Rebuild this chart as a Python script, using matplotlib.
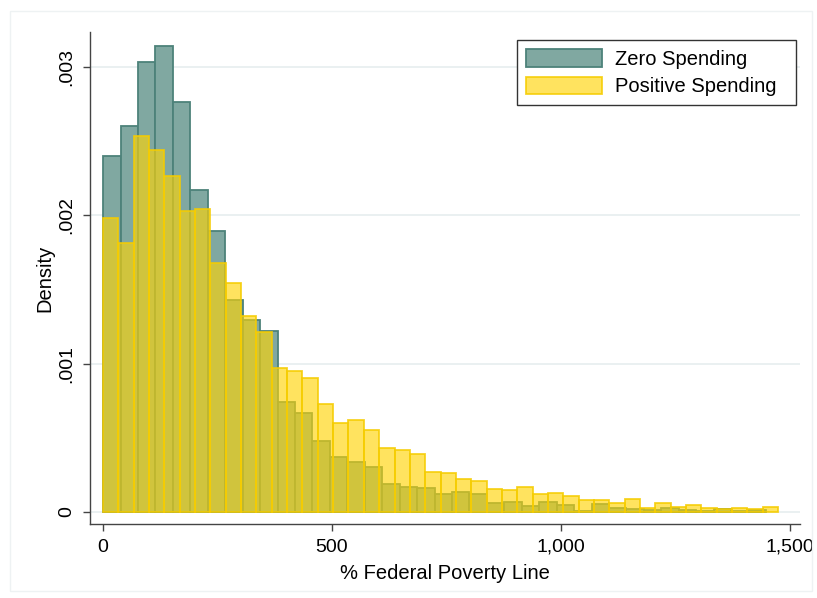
import matplotlib

matplotlib.use("Agg")
import matplotlib.pyplot as plt
import numpy as np
from matplotlib.patches import Rectangle

# Densities (% FPL bins starting at 0)
zero_bin_width = 38.1
zero_density = [
    0.00240, 0.00260, 0.00303, 0.00314, 0.00276, 0.00217, 0.00189, 0.00143,
    0.00129, 0.00122, 0.00074, 0.00067, 0.00048, 0.00037, 0.000335, 0.00030,
    0.00019, 0.000166, 0.00016, 0.00012, 0.000135, 0.00012, 0.000058, 0.000065,
    0.000038, 0.000067, 0.000049, 0.000007, 0.000054, 0.000025, 0.00002,
    0.000015, 0.000025, 0.000015, 0.000005, 0.00002, 0.00001, 0.000015,
]

pos_bin_width = 33.5
positive_density = [
    0.00198, 0.00181, 0.00253, 0.00244, 0.00226, 0.00203, 0.00204, 0.00168,
    0.00154, 0.00132, 0.00121, 0.00097, 0.00095, 0.00090, 0.00073, 0.00060,
    0.00062, 0.00055, 0.00043, 0.00042, 0.00039, 0.00027, 0.00026, 0.00022,
    0.00021, 0.000155, 0.00015, 0.000168, 0.000119, 0.000128, 0.000108, 0.000083,
    0.00008, 0.000063, 0.000085, 0.000027, 0.000058, 0.000036, 0.000049, 0.000027,
    0.000018, 0.000025, 0.00002, 0.000036,
]

x_ticks = [0, 500, 1000, 1500]
x_tick_labels = ["0", "500", "1,000", "1,500"]
y_ticks = [0, 0.001, 0.002, 0.003]
y_tick_labels = ["0", ".001", ".002", ".003"]

plt.rcParams["font.family"] = ["Liberation Sans", "DejaVu Sans"]

fig = plt.figure(figsize=(8.17, 5.98), dpi=100)
ax = fig.add_axes([0.110, 0.1237, 0.869, 0.8227])

# faint outer graph-region frame
fig.add_artist(
    Rectangle((0.012, 0.012), 0.982, 0.97, transform=fig.transFigure,
              fill=False, edgecolor="#eef2f3", linewidth=1.0)
)

zero_left = np.arange(len(zero_density)) * zero_bin_width
pos_left = np.arange(len(positive_density)) * pos_bin_width

ax.bar(zero_left, zero_density, width=zero_bin_width, align="edge",
       color="#80a8a1", edgecolor="#4d827a", linewidth=1.3,
       label="Zero Spending", zorder=2)
ax.bar(pos_left, positive_density, width=pos_bin_width, align="edge",
       color=(1.0, 0.83, 0.02, 0.64), edgecolor=(0.96, 0.80, 0.0, 0.85),
       linewidth=1.3, label="Positive Spending", zorder=3)

ax.set_xlim(-28.8, 1521.7)
ax.set_ylim(-0.000081, 0.003232)

ax.set_xticks(x_ticks)
ax.set_xticklabels(x_tick_labels)
ax.set_yticks(y_ticks)
ax.set_yticklabels(y_tick_labels, rotation=90, va="center")

ax.yaxis.grid(True, color="#eaf0f1", linewidth=1.4, zorder=0)
ax.set_axisbelow(True)

for side in ["top", "right"]:
    ax.spines[side].set_visible(False)
for side in ["left", "bottom"]:
    ax.spines[side].set_color("#444444")
    ax.spines[side].set_linewidth(1.0)

ax.tick_params(axis="both", direction="out", length=5, width=1.0,
               color="#444444", labelsize=14, pad=5.5)

ax.set_xlabel("% Federal Poverty Line", fontsize=14.5, labelpad=6)
ax.set_ylabel("Density", fontsize=14.5, labelpad=3)

leg = ax.legend(loc="upper right", bbox_to_anchor=(0.6014, 0.5, 0.393, 0.4837),
                mode="expand", borderaxespad=0, fontsize=14.5, fancybox=False,
                edgecolor="#333333", framealpha=1, handlelength=3.8,
                handleheight=0.95, labelspacing=0.4, borderpad=0.45,
                handletextpad=0.6)
leg.get_frame().set_linewidth(1.0)

fig.savefig("out.png", dpi=100)
plt.close(fig)
